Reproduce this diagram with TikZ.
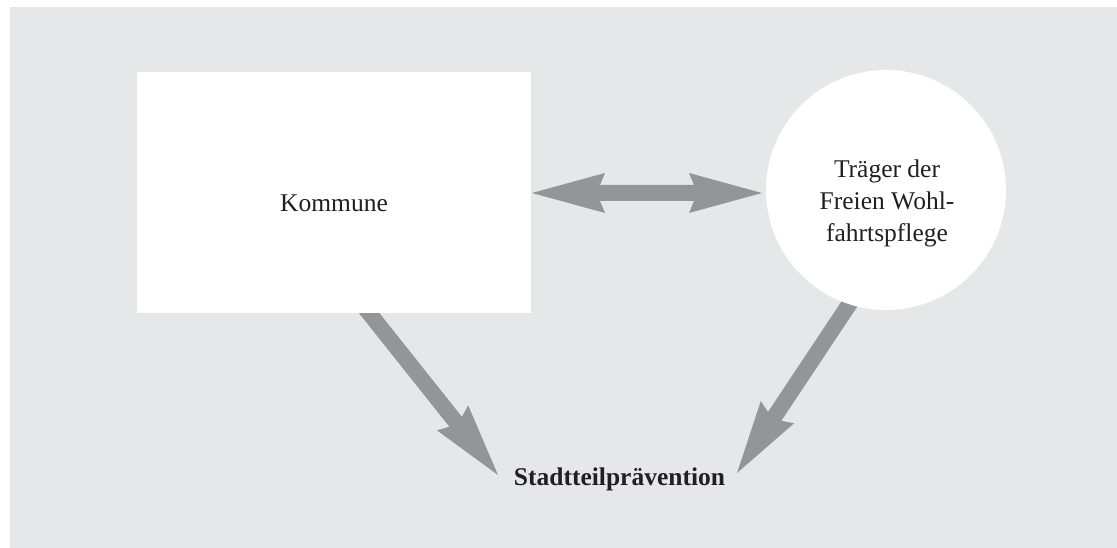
\documentclass[tikz,border=0pt]{standalone}
\usepackage{fontspec}
\setmainfont{Liberation Serif}
\usetikzlibrary{calc,backgrounds}

\definecolor{panelgray}{HTML}{E6E7E8}
\definecolor{arrowgray}{HTML}{939598}
\definecolor{inkblack}{HTML}{231F20}

% Broad filled arrow from #1 (tail) to #2 (tip)
\newcommand\fatarrow[2]{%
  \coordinate (fa-b) at ($(#2)!73pt!(#1)$);
  \coordinate (fa-j) at ($(#2)!68pt!(#1)$);
  \fill[arrowgray]
    ($(#1)!8pt!90:(#2)$) -- ($(fa-j)!8pt!90:(#2)$) -- ($(fa-b)!20pt!90:(#2)$)
    -- (#2)
    -- ($(fa-b)!20pt!-90:(#2)$) -- ($(fa-j)!8pt!-90:(#2)$) -- ($(#1)!8pt!-90:(#2)$)
    -- cycle;
}
% Broad filled arrow with heads at both ends #1 and #2
\newcommand\fatdoublearrow[2]{%
  \coordinate (fd-ba) at ($(#1)!73pt!(#2)$);
  \coordinate (fd-ja) at ($(#1)!68pt!(#2)$);
  \coordinate (fd-bb) at ($(#2)!73pt!(#1)$);
  \coordinate (fd-jb) at ($(#2)!68pt!(#1)$);
  \fill[arrowgray]
    (#1) -- ($(fd-ba)!20pt!90:(#2)$) -- ($(fd-ja)!8pt!90:(#2)$)
    -- ($(fd-jb)!8pt!90:(#2)$) -- ($(fd-bb)!20pt!90:(#2)$)
    -- (#2)
    -- ($(fd-bb)!20pt!-90:(#2)$) -- ($(fd-jb)!8pt!-90:(#2)$)
    -- ($(fd-ja)!8pt!-90:(#2)$) -- ($(fd-ba)!20pt!-90:(#2)$)
    -- cycle;
}

\tikzset{
  label text/.style={font=\fontsize{25.5}{32}\selectfont, text=inkblack, inner sep=0pt},
  whitebox/.style={rectangle, fill=white, inner sep=0pt, minimum width=394pt, minimum height=241pt},
  whitedisc/.style={circle, fill=white, inner sep=0pt, minimum size=240pt},
}

\begin{document}
\begin{tikzpicture}[x=1pt, y=-1pt]
  \useasboundingbox (0,0) rectangle (1117,548);

  % shapes
  \node[whitebox] (kommune) at (334,192.5) {};
  \node[whitedisc] (traeger) at (886,190) {};

  % texts
  \node[label text, anchor=base] (kommunetext) at (334,212) {Kommune};
  \node[label text, align=center, anchor=center] (traegertext) at (887,203)
    {Träger der\\Freien Wohl-\\fahrtspflege};
  \node[label text, font=\fontsize{25.5}{32}\selectfont\bfseries, anchor=base]
    (praevention) at (619.5,485) {Stadtteilprävention};

  % arrow ends
  \coordinate (k-east) at (532,193);
  \coordinate (t-west) at (762,193);
  \coordinate (k-out) at (350,289);
  \coordinate (p-left) at (498,475);
  \coordinate (t-out) at (870,273);
  \coordinate (p-right) at (737,473);

  \begin{pgfonlayer}{background}
    \fill[white] (0,0) rectangle (1117,548);
    \fill[panelgray] (10,7) rectangle (1117,548);
    \fatdoublearrow{k-east}{t-west}
    \fatarrow{k-out}{p-left}
    \fatarrow{t-out}{p-right}
  \end{pgfonlayer}
\end{tikzpicture}
\end{document}
